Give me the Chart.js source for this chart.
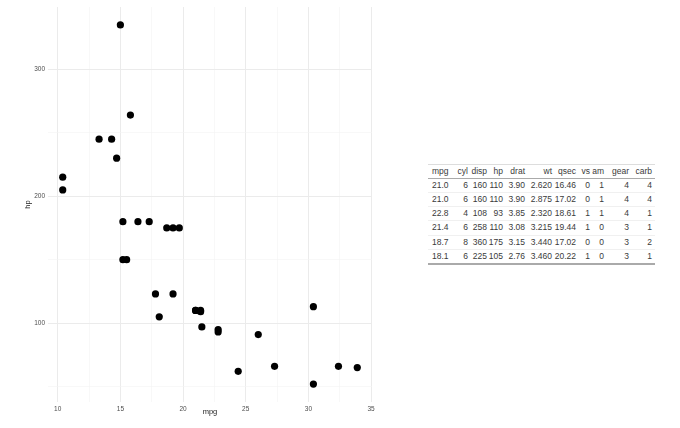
<!DOCTYPE html>
<html>
<head>
<meta charset="utf-8">
<script src="https://cdn.jsdelivr.net/npm/chart.js"></script>
<style>
  body { margin: 0; background: #fff; font-family: "Liberation Sans", Arial, sans-serif; }
  #wrap { position: absolute; left: 0; top: 0; width: 390px; height: 428px; }
  #tbl { position: absolute; left: 428px; top: 164px; border-collapse: collapse; table-layout: fixed;
         font-size: 8.5px; color: #3a3a3a; border-top: 1px solid #ddd; border-bottom: 2px solid #aaa; }
  #tbl th, #tbl td { padding: 0; text-align: right; white-space: nowrap; font-weight: normal; }
  #tbl th { border-bottom: 1px solid #aaa; height: 12.5px; line-height: 12.5px; }
  #tbl td { border-top: 1px solid #f0f0f0; height: 13.3px; line-height: 13.3px; }
  #tbl th:first-child, #tbl td:first-child { text-align: left; padding-left: 4px; }
  #tbl th:last-child, #tbl td:last-child { padding-right: 3px; }
</style>
</head>
<body>
<div id="wrap"><canvas id="myChart" width="390" height="428"></canvas></div>
<table id="tbl"></table>

<script>
  // mpg vs hp (mtcars)
  const mpg = [21.0, 21.0, 22.8, 21.4, 18.7, 18.1, 14.3, 24.4, 22.8, 19.2, 17.8, 16.4, 17.3, 15.2, 10.4, 10.4,
               14.7, 32.4, 30.4, 33.9, 21.5, 15.5, 15.2, 13.3, 19.2, 27.3, 26.0, 30.4, 15.8, 19.7, 15.0, 21.4];
  const hp = [110, 110, 93, 110, 175, 105, 245, 62, 95, 123, 123, 180, 180, 180, 205, 215,
              230, 66, 52, 65, 97, 150, 150, 245, 175, 66, 91, 113, 264, 175, 335, 109];

  const xMajor = [10, 15, 20, 25, 30, 35];
  const xMinor = [12.5, 17.5, 22.5, 27.5, 32.5];
  const yMajor = [100, 200, 300];
  const yMinor = [50, 150, 250];

  const tableHeader = ['mpg', 'cyl', 'disp', 'hp', 'drat', 'wt', 'qsec', 'vs', 'am', 'gear', 'carb'];
  const colWidths = [26, 14, 19, 16, 22, 27, 24, 14, 14, 25, 26];
  const tableRows = [
    ['21.0', '6', '160', '110', '3.90', '2.620', '16.46', '0', '1', '4', '4'],
    ['21.0', '6', '160', '110', '3.90', '2.875', '17.02', '0', '1', '4', '4'],
    ['22.8', '4', '108', '93', '3.85', '2.320', '18.61', '1', '1', '4', '1'],
    ['21.4', '6', '258', '110', '3.08', '3.215', '19.44', '1', '0', '3', '1'],
    ['18.7', '8', '360', '175', '3.15', '3.440', '17.02', '0', '0', '3', '2'],
    ['18.1', '6', '225', '105', '2.76', '3.460', '20.22', '1', '0', '3', '1']
  ];

  // build the table
  const tbl = document.getElementById('tbl');
  let html = '<colgroup>' + colWidths.map(w => '<col style="width:' + w + 'px">').join('') + '</colgroup>';
  html += '<tr>' + tableHeader.map(h => '<th>' + h + '</th>').join('') + '</tr>';
  tableRows.forEach(function(r) {
    html += '<tr>' + r.map(v => '<td>' + v + '</td>').join('') + '</tr>';
  });
  tbl.innerHTML = html;

  const points = mpg.map((m, i) => ({ x: m, y: hp[i] }));
  const font = "'Liberation Sans', Arial, sans-serif";

  const gridColor = (major) => (ctx) => major.includes(ctx.tick && ctx.tick.value) ? '#ebebeb' : '#f3f3f3';
  const gridWidth = (major) => (ctx) => major.includes(ctx.tick && ctx.tick.value) ? 1 : 0.6;

  const ctx = document.getElementById('myChart').getContext('2d');
  new Chart(ctx, {
    type: 'scatter',
    data: {
      datasets: [{
        data: points,
        backgroundColor: '#000',
        borderColor: '#000',
        borderWidth: 0,
        pointRadius: 3.6,
        pointHoverRadius: 3.6
      }]
    },
    options: {
      responsive: false,
      animation: false,
      layout: { padding: { top: 7, right: 18, bottom: 6, left: 0 } },
      plugins: { legend: { display: false }, tooltip: { enabled: false } },
      scales: {
        x: {
          type: 'linear',
          min: 9.225,
          max: 35.075,
          afterBuildTicks: (s) => { s.ticks = xMajor.concat(xMinor).map(v => ({ value: v })); },
          afterFit: (s) => { s.height = 20; },
          ticks: {
            autoSkip: false,
            maxRotation: 0,
            padding: 3,
            color: '#4d4d4d',
            font: { family: font, size: 6.5 },
            callback: (v) => xMajor.includes(v) ? String(v) : ''
          },
          grid: { color: gridColor(xMajor), lineWidth: gridWidth(xMajor), drawTicks: false },
          border: { display: false },
          title: { display: true, text: 'mpg', color: '#222', font: { family: font, size: 7.5 }, padding: { top: 0, bottom: 6 } }
        },
        y: {
          type: 'linear',
          min: 37.85,
          max: 349.15,
          afterBuildTicks: (s) => { s.ticks = yMajor.concat(yMinor).map(v => ({ value: v })); },
          afterFit: (s) => { s.width = 48; },
          ticks: {
            autoSkip: false,
            padding: 3,
            color: '#4d4d4d',
            font: { family: font, size: 6.5 },
            callback: (v) => yMajor.includes(v) ? String(v) : ''
          },
          grid: { color: gridColor(yMajor), lineWidth: gridWidth(yMajor), drawTicks: false },
          border: { display: false },
          title: { display: true, text: 'hp', color: '#222', font: { family: font, size: 7.5 }, padding: { top: 23, bottom: 0 } }
        }
      }
    }
  });
</script>
</body>
</html>
